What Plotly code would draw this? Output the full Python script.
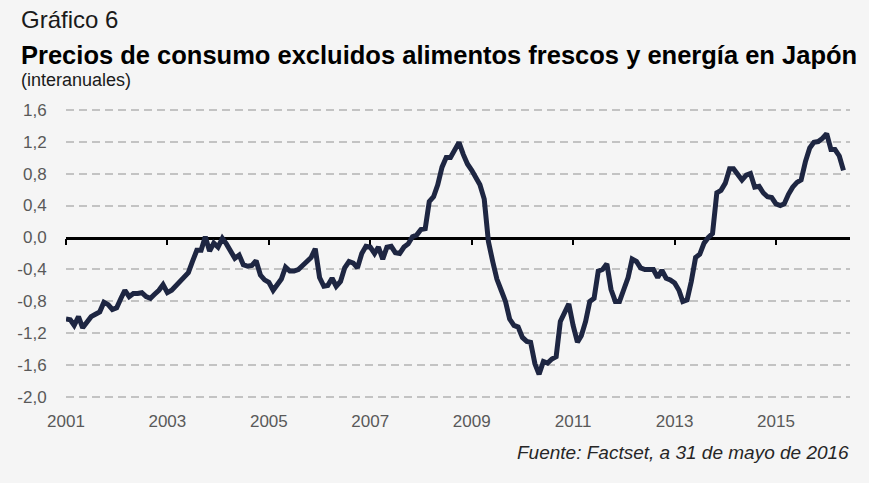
import pandas as pd
import plotly.graph_objects as go

# ---- data (monthly, year-on-year %, Jan 2001 - May 2016) ----
start_month = "2001-01-01"
values = [
    # 2001
    -1.02, -1.03, -1.10, -0.99, -1.13, -1.05, -0.99, -0.96, -0.93, -0.81, -0.84, -0.90,
    # 2002
    -0.88, -0.76, -0.66, -0.74, -0.70, -0.70, -0.69, -0.74, -0.76, -0.71, -0.66, -0.59,
    # 2003
    -0.69, -0.66, -0.61, -0.54, -0.48, -0.44, -0.30, -0.16, -0.16, 0.01, -0.17, -0.07,
    # 2004
    -0.12, -0.01, -0.08, -0.16, -0.26, -0.22, -0.34, -0.36, -0.35, -0.29, -0.47, -0.53,
    # 2005
    -0.56, -0.66, -0.58, -0.52, -0.37, -0.42, -0.42, -0.40, -0.35, -0.30, -0.25, -0.14,
    # 2006
    -0.50, -0.61, -0.60, -0.51, -0.61, -0.55, -0.38, -0.30, -0.32, -0.38, -0.20, -0.11,
    # 2007
    -0.12, -0.20, -0.12, -0.27, -0.12, -0.11, -0.19, -0.20, -0.12, -0.08, 0.01, 0.03,
    # 2008
    0.10, 0.11, 0.45, 0.51, 0.66, 0.88, 1.00, 1.00, 1.11, 1.19, 1.04, 0.92,
    # 2009
    0.84, 0.76, 0.66, 0.48, -0.05, -0.30, -0.52, -0.66, -0.80, -1.02, -1.10, -1.12,
    # 2010
    -1.25, -1.30, -1.31, -1.58, -1.71, -1.55, -1.57, -1.52, -1.49, -1.05, -0.95, -0.83,
    # 2011
    -1.10, -1.31, -1.23, -1.05, -0.80, -0.76, -0.42, -0.40, -0.33, -0.65, -0.80, -0.80,
    # 2012
    -0.65, -0.50, -0.27, -0.30, -0.38, -0.40, -0.40, -0.40, -0.50, -0.41, -0.51, -0.53,
    # 2013
    -0.57, -0.66, -0.80, -0.78, -0.55, -0.25, -0.21, -0.07, 0.00, 0.05, 0.56, 0.59,
    # 2014
    0.68, 0.86, 0.86, 0.80, 0.72, 0.78, 0.80, 0.63, 0.64, 0.56, 0.51, 0.50,
    # 2015
    0.42, 0.40, 0.42, 0.54, 0.63, 0.69, 0.72, 0.95, 1.12, 1.19, 1.20, 1.24,
    # 2016
    1.30, 1.10, 1.10, 1.02, 0.84,
]
dates = pd.date_range(start_month, periods=len(values), freq="MS")

year_ticks = ["2001-01-01", "2003-01-01", "2005-01-01", "2007-01-01",
              "2009-01-01", "2011-01-01", "2013-01-01", "2015-01-01"]
year_labels = ["2001", "2003", "2005", "2007", "2009", "2011", "2013", "2015"]
y_ticks = [-2.0, -1.6, -1.2, -0.8, -0.4, 0.0, 0.4, 0.8, 1.2, 1.6]
y_labels = ["-2,0", "-1,6", "-1,2", "-0,8", "-0,4", "0,0", "0,4", "0,8", "1,2", "1,6"]

title_small = "Gráfico 6"
title_main = "Precios de consumo excluidos alimentos frescos y energía en Japón"
subtitle = "(interanuales)"
source = "Fuente: Factset, a 31 de mayo de 2016"

# ---- layout geometry ----
W, H = 869, 483
ML, MR, MT, MB = 66, 19, 108, 84
PW, PH = W - ML - MR, H - MT - MB
Y_RANGE = [-2.02, 1.62]
X_RANGE = ["2001-01-01", "2016-06-17"]
BG = "#f5f5f5"
FONT = "Arial, 'Liberation Sans', sans-serif"


def px_x(px):
    return (px - ML) / PW


def px_y(py):
    return (H - MB - py) / PH


fig = go.Figure()
fig.add_trace(go.Scatter(
    x=dates, y=values, mode="lines",
    line=dict(color="#1e2642", width=5),
    hoverinfo="skip", showlegend=False,
))
# dummy trace so the zero-line axis with ticks is drawn
fig.add_trace(go.Scatter(
    x=[dates[0]], y=[None], xaxis="x2", mode="lines",
    showlegend=False, hoverinfo="skip",
))

zero_pos = (0 - Y_RANGE[0]) / (Y_RANGE[1] - Y_RANGE[0])

fig.update_layout(
    width=W, height=H,
    margin=dict(l=ML, r=MR, t=MT, b=MB, pad=0),
    paper_bgcolor=BG, plot_bgcolor=BG,
    font=dict(family=FONT, size=17, color="#595959"),
    showlegend=False,
    xaxis=dict(
        range=X_RANGE, type="date",
        tickmode="array", tickvals=year_ticks, ticktext=year_labels,
        showgrid=False, zeroline=False, showline=False,
        ticks="outside", ticklen=7, tickcolor="rgba(0,0,0,0)",
        tickfont=dict(size=17, color="#595959"),
    ),
    xaxis2=dict(
        range=X_RANGE, type="date", overlaying="x", anchor="free",
        position=zero_pos,
        tickmode="array", tickvals=year_ticks, showticklabels=False,
        showgrid=False, zeroline=False,
        showline=True, linecolor="#000000", linewidth=2.5,
        ticks="outside", ticklen=6, tickwidth=2, tickcolor="#000000",
        layer="below traces",
    ),
    yaxis=dict(
        range=Y_RANGE,
        tickmode="array", tickvals=y_ticks, ticktext=y_labels,
        showgrid=True, gridcolor="#c3c3c3", gridwidth=2, griddash="8px,5px",
        zeroline=False, showline=False,
        ticks="outside", ticklen=15, tickcolor="rgba(0,0,0,0)",
        tickfont=dict(size=17, color="#595959"),
    ),
)

fig.add_annotation(text=title_small, xref="paper", yref="paper",
                   x=px_x(19), y=px_y(20), xanchor="left", yanchor="middle",
                   showarrow=False, font=dict(family=FONT, size=24, color="#1a1a1a"))
fig.add_annotation(text="<b>" + title_main + "</b>", xref="paper", yref="paper",
                   x=px_x(19), y=px_y(55), xanchor="left", yanchor="middle",
                   showarrow=False, font=dict(family=FONT, size=25.5, color="#000000"))
fig.add_annotation(text=subtitle, xref="paper", yref="paper",
                   x=px_x(19), y=px_y(80), xanchor="left", yanchor="middle",
                   showarrow=False, font=dict(family=FONT, size=18, color="#1a1a1a"))
fig.add_annotation(text="<i>" + source + "</i>", xref="paper", yref="paper",
                   x=px_x(851), y=px_y(452), xanchor="right", yanchor="middle",
                   showarrow=False, font=dict(family=FONT, size=19, color="#262626"))

fig.write_html("out.html")
